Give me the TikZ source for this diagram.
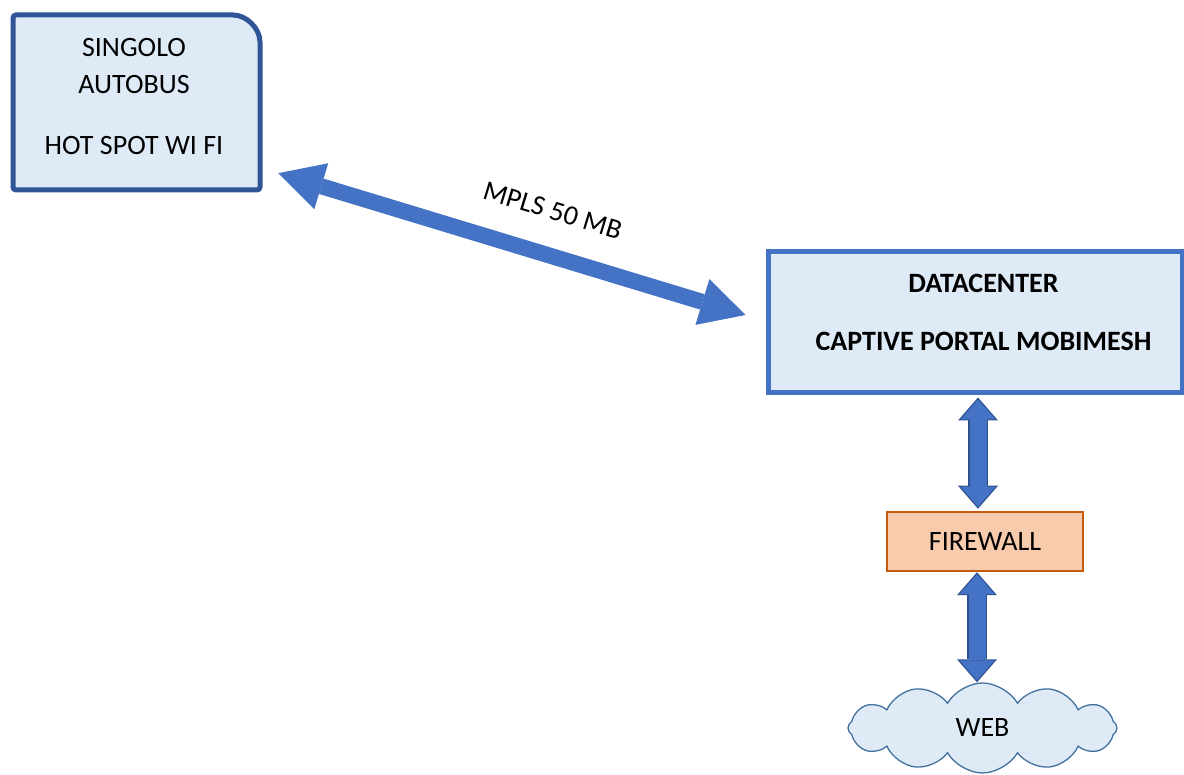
\documentclass[tikz,border=0pt]{standalone}
\usepackage{fontspec}
\setmainfont{Carlito}
\usetikzlibrary{arrows.meta,shapes.symbols}
\definecolor{boxfill}{HTML}{DEEBF7}
\definecolor{busline}{HTML}{2F5597}
\definecolor{dcline}{HTML}{4472C4}
\definecolor{arrowblue}{HTML}{4472C4}
\definecolor{arrowline}{HTML}{2F528F}
\definecolor{firefill}{HTML}{F8CBAD}
\definecolor{fireline}{HTML}{C55A11}
\definecolor{cloudline}{HTML}{41719C}

\begin{document}
\begin{tikzpicture}[x=1pt,y=1pt,
  main node/.style={font=\fontsize{28}{37}\selectfont,align=center,inner sep=0pt},
  box node/.style={draw=dcline,line width=5pt,fill=boxfill,inner sep=0pt},
  fire node/.style={main node,draw=fireline,line width=2.5pt,fill=firefill,
    minimum width=196pt,minimum height=59pt},
  cloud node/.style={main node,cloud,cloud puffs=12,cloud puff arc=120,aspect=3,draw=cloudline,
    line width=1.3pt,fill=boxfill,minimum width=269pt,minimum height=90pt},
  link/.style={arrowblue,line width=16pt,
    arrows={Triangle[width=48pt,length=45pt,line width=0pt]-Triangle[width=48pt,length=45pt,line width=0pt]}},
  pipe out/.style={arrowline,line width=20pt,
    arrows={Triangle[width=40pt,length=23pt,line width=0pt]-Triangle[width=40pt,length=23pt,line width=0pt]}},
  pipe in/.style={arrowblue,line width=17pt,
    arrows={Triangle[width=35pt,length=20pt,line width=0pt]-Triangle[width=35pt,length=20pt,line width=0pt]}}]
  \useasboundingbox (0,0) rectangle (1184,775);
  % bus box, only the top right corner is round
  \path[draw=busline,line width=5pt,fill=boxfill,rounded corners=3pt]
    (13,585) -- (13,760) -- (230,760) arc[start angle=90,end angle=0,radius=30] -- (260,585) -- cycle;
  \node              (bus)     at (136.5,672.5) [minimum width=247pt,minimum height=175pt] {};
  \node[main node]   (bustext) at (134,678)   {SINGOLO\\AUTOBUS\\[24pt]HOT SPOT WI FI};
  \node[box node]    (dc)      at (975,452.5) [minimum width=414pt,minimum height=141pt] {};
  \node[main node]   (dctext)  at (983.5,463) {\bfseries DATACENTER\\[21pt]\bfseries CAPTIVE PORTAL MOBIMESH};
  \node[fire node]   (fw)      at (985,233.5) {FIREWALL};
  \node[cloud node]  (web)     at (982.5,47)  {WEB};
  \path
    ([shift={(18,17)}]bus.south east) edge[link]
      node[main node,text=black,sloped,above=27pt,pos=0.56] {MPLS 50 MB}
    ([shift={(-20,7.5)}]dc.west);
  \path
    ([xshift=-7pt]fw.north |- dc.south) edge[pipe out,shorten <=2pt,shorten >=2pt] ([xshift=-7pt]fw.north)
    ([xshift=-7pt]fw.north |- dc.south) edge[pipe in,shorten <=4pt,shorten >=4pt]  ([xshift=-7pt]fw.north)
    ([xshift=-8pt]fw.south) edge[pipe out] ([xshift=-8pt]fw.south |- web.north)
    ([xshift=-8pt]fw.south) edge[pipe in,shorten <=2pt,shorten >=2pt] ([xshift=-8pt]fw.south |- web.north);
\end{tikzpicture}
\end{document}
